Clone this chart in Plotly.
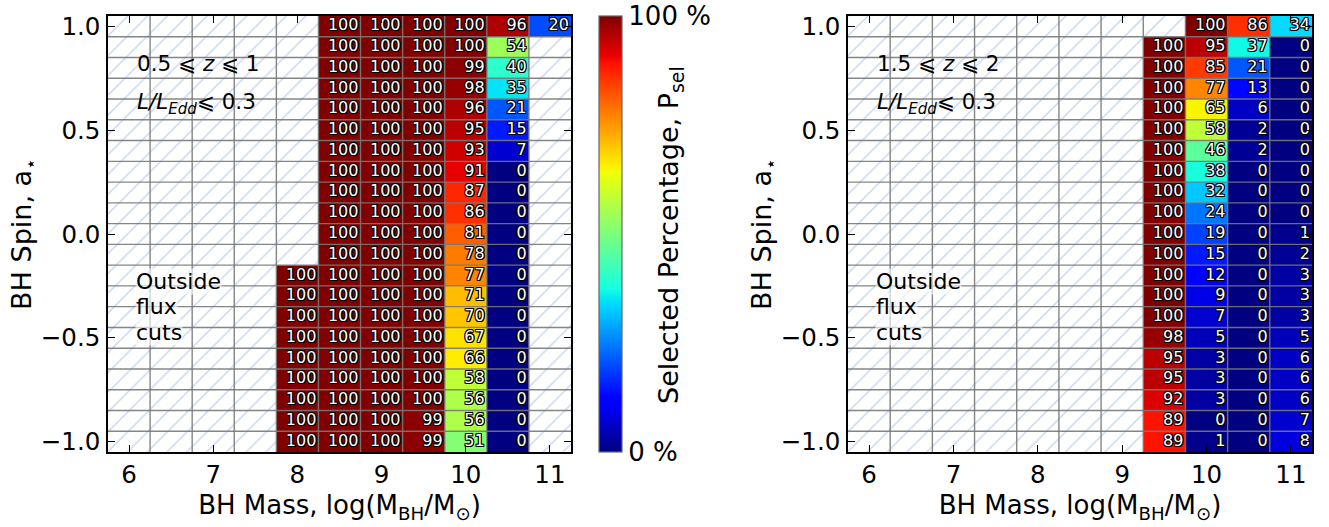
import numpy as np
import plotly.graph_objects as go

# ---------------- data ----------------
mass_bins = [6.0, 6.5, 7.0, 7.5, 8.0, 8.5, 9.0, 9.5, 10.0, 10.5, 11.0]
spin_bins = [1.0, 0.9, 0.8, 0.7, 0.6, 0.5, 0.4, 0.3, 0.2, 0.1, 0.0,
             -0.1, -0.2, -0.3, -0.4, -0.5, -0.6, -0.7, -0.8, -0.9, -1.0]
N = None

# panel 1: 0.5 <= z <= 1 (columns listed top spin -> bottom spin)
p1_m80 = [N, N, N, N, N, N, N, N, N, N, N, N, 100, 100, 100, 100, 100, 100, 100, 100, 100]
p1_m85 = [100, 100, 100, 100, 100, 100, 100, 100, 100, 100, 100, 100, 100, 100, 100, 100, 100, 100, 100, 100, 100]
p1_m90 = [100, 100, 100, 100, 100, 100, 100, 100, 100, 100, 100, 100, 100, 100, 100, 100, 100, 100, 100, 100, 100]
p1_m95 = [100, 100, 100, 100, 100, 100, 100, 100, 100, 100, 100, 100, 100, 100, 100, 100, 100, 100, 100, 99, 99]
p1_m100 = [100, 100, 99, 98, 96, 95, 93, 91, 87, 86, 81, 78, 77, 71, 70, 67, 66, 58, 56, 56, 51]
p1_m105 = [96, 54, 40, 35, 21, 15, 7, 0, 0, 0, 0, 0, 0, 0, 0, 0, 0, 0, 0, 0, 0]
p1_m110 = [20, N, N, N, N, N, N, N, N, N, N, N, N, N, N, N, N, N, N, N, N]

# panel 2: 1.5 <= z <= 2
p2_m95 = [N, 100, 100, 100, 100, 100, 100, 100, 100, 100, 100, 100, 100, 100, 100, 98, 95, 95, 92, 89, 89]
p2_m100 = [100, 95, 85, 77, 65, 58, 46, 38, 32, 24, 19, 15, 12, 9, 7, 5, 3, 3, 3, 0, 1]
p2_m105 = [86, 37, 21, 13, 6, 2, 2, 0, 0, 0, 0, 0, 0, 0, 0, 0, 0, 0, 0, 0, 0]
p2_m110 = [34, 0, 0, 0, 0, 0, 0, 0, 0, 0, 1, 2, 3, 3, 3, 5, 6, 6, 6, 7, 8]

panel1_cols = {8.0: p1_m80, 8.5: p1_m85, 9.0: p1_m90, 9.5: p1_m95,
               10.0: p1_m100, 10.5: p1_m105, 11.0: p1_m110}
panel2_cols = {9.5: p2_m95, 10.0: p2_m100, 10.5: p2_m105, 11.0: p2_m110}

panel1_labels = ["0.5 \u2a7d <i>z</i> \u2a7d 1", "<i>L/L<sub>Edd</sub></i>\u2a7d 0.3"]
panel2_labels = ["1.5 \u2a7d <i>z</i> \u2a7d 2", "<i>L/L<sub>Edd</sub></i>\u2a7d 0.3"]
outside_label = ["Outside", "flux", "cuts"]

cbar_ticks = [0, 100]
cbar_text = ["0 %", "100 %"]
cbar_title = "Selected Percentage, P<sub>sel</sub>"

# ---------------- style ----------------
W, H = 1329, 527
FONT = "DejaVu Sans"
dx = mass_bins[1] - mass_bins[0]
dy = abs(spin_bins[0] - spin_bins[1])

# matplotlib 'jet'
_bp = [0, 0.11, 0.125, 0.34, 0.35, 0.375, 0.64, 0.65, 0.66, 0.89, 0.91, 1.0]
_r = lambda t: np.interp(t, [0, 0.35, 0.66, 0.89, 1], [0, 0, 1, 1, 0.5])
_g = lambda t: np.interp(t, [0, 0.125, 0.375, 0.64, 0.91, 1], [0, 0, 1, 1, 0, 0])
_b = lambda t: np.interp(t, [0, 0.11, 0.34, 0.65, 1], [0.5, 1, 1, 0, 0])
jet = [[t, "rgb(%d,%d,%d)" % (round(255 * _r(t)), round(255 * _g(t)), round(255 * _b(t)))] for t in _bp]

xdom1 = [108 / W, 571 / W]
xdom2 = [848 / W, 1312 / W]
ydom = [1 - 452 / H, 1 - 16 / H]

shadow = ("1px 1px 0 #000, -1px -1px 0 #000, 1px -1px 0 #000, -1px 1px 0 #000, "
          "0 1px 0 #000, 0 -1px 0 #000, 1px 0 0 #000, -1px 0 0 #000")


def grid_z(cols):
    z = []
    for i in range(len(spin_bins)):
        row = []
        for m in mass_bins:
            row.append(cols[m][i] if m in cols else None)
        z.append(row)
    return z


fig = go.Figure()

for k, cols in enumerate([panel1_cols, panel2_cols]):
    xa = "x" if k == 0 else "x2"
    ya = "y" if k == 0 else "y2"
    z = grid_z(cols)
    hx, hb = [], []
    tx, ty, tt = [], [], []
    for i, s in enumerate(spin_bins):
        for j, m in enumerate(mass_bins):
            if z[i][j] is None:
                hx.append(m)
                hb.append(s - dy / 2)
            else:
                tx.append(m + dx * 0.45)
                ty.append(s)
                tt.append(str(z[i][j]))
    # hatched background for cells outside flux cuts
    fig.add_trace(go.Bar(
        x=hx, y=[dy] * len(hx), base=hb, width=dx, xaxis=xa, yaxis=ya,
        marker=dict(color="white", line=dict(width=0),
                    pattern=dict(shape="/", fgcolor="#92abd6", bgcolor="white",
                                 size=14, solidity=0.1)),
        hoverinfo="skip", showlegend=False))
    fig.add_trace(go.Heatmap(
        x=mass_bins, y=spin_bins, z=z, xaxis=xa, yaxis=ya,
        colorscale=jet, zmin=0, zmax=100, hoverongaps=False,
        showscale=(k == 0),
        colorbar=dict(x=599 / W, xanchor="left", xref="paper", xpad=0, ypad=0,
                      y=sum(ydom) / 2, yanchor="middle", yref="paper",
                      len=ydom[1] - ydom[0], lenmode="fraction",
                      thickness=23, thicknessmode="pixels",
                      outlinecolor="#666", outlinewidth=1.2,
                      tickvals=cbar_ticks, ticktext=cbar_text, ticks="",
                      ticklabelposition="outside",
                      tickfont=dict(family=FONT, size=26, color="black")),
    ))
    fig.add_trace(go.Scatter(
        x=tx, y=ty, text=tt, mode="text", textposition="middle left",
        xaxis=xa, yaxis=ya, hoverinfo="skip", showlegend=False,
        textfont=dict(family=FONT, size=16, color="white", shadow=shadow)))

    # grid lines above everything
    xr = "x" if k == 0 else "x2"
    yr = "y" if k == 0 else "y2"
    for m in mass_bins[:-1]:
        fig.add_shape(type="line", x0=m + dx / 2, x1=m + dx / 2, y0=0, y1=1,
                      xref=xr, yref=yr + " domain", layer="above",
                      line=dict(color="rgba(120,120,120,0.9)", width=1.4))
    for s in spin_bins[:-1]:
        fig.add_shape(type="line", x0=0, x1=1, y0=s - dy / 2, y1=s - dy / 2,
                      xref=xr + " domain", yref=yr, layer="above",
                      line=dict(color="rgba(120,120,120,0.9)", width=1.4))

    labels = panel1_labels if k == 0 else panel2_labels
    for txt, yy in zip(labels, [0.892, 0.800]):
        fig.add_annotation(text=txt, x=0.058, y=yy, xref=xr + " domain", yref=yr + " domain",
                           xanchor="left", yanchor="middle", showarrow=False,
                           font=dict(family=FONT, size=21.5, color="black"))
    for txt, yy in zip(outside_label, [0.392, 0.333, 0.275]):
        fig.add_annotation(text=txt, x=0.058, y=yy, xref=xr + " domain", yref=yr + " domain",
                           xanchor="left", yanchor="middle", showarrow=False,
                           bgcolor="rgba(255,255,255,0.6)", borderpad=0,
                           font=dict(family=FONT, size=22, color="black"))

# colorbar title
fig.add_annotation(text=cbar_title, x=670 / W, y=1 - 235 / H, xref="paper", yref="paper",
                   xanchor="center", yanchor="middle", textangle=-90, showarrow=False,
                   font=dict(family=FONT, size=27, color="black"))

axis_common = dict(showline=True, linecolor="black", linewidth=1.5, mirror="ticks",
                   ticks="inside", ticklen=7, tickwidth=1.2, tickcolor="black",
                   showgrid=False, zeroline=False, automargin=False,
                   tickfont=dict(family=FONT, size=24.5, color="black"))
xax = dict(axis_common, range=[mass_bins[0] - dx / 2, mass_bins[-1] + dx / 2],
           tickvals=[6, 7, 8, 9, 10, 11], ticklabelstandoff=0,
           title=dict(text="BH Mass, log(M<sub>BH</sub>/M<sub>\u2299</sub>)", standoff=8,
                      font=dict(family=FONT, size=26, color="black")))
yax = dict(axis_common, range=[spin_bins[-1] - dy / 2, spin_bins[0] + dy / 2],
           tickvals=[-1.0, -0.5, 0.0, 0.5, 1.0], tickformat=".1f", ticklabelstandoff=1,
           title=dict(text="BH Spin, a<sub>\u22c6</sub>", standoff=1,
                      font=dict(family=FONT, size=27, color="black")))

fig.update_layout(
    width=W, height=H, margin=dict(l=0, r=0, t=0, b=0, autoexpand=False),
    paper_bgcolor="white", plot_bgcolor="white", barmode="overlay",
    showlegend=False,
    xaxis=dict(xax, domain=xdom1, anchor="y"),
    yaxis=dict(yax, domain=ydom, anchor="x"),
    xaxis2=dict(xax, domain=xdom2, anchor="y2"),
    yaxis2=dict(yax, domain=ydom, anchor="x2"),
)

fig.write_html("out.html", config={"displayModeBar": False},
               post_script="document.body.style.margin='0';")
